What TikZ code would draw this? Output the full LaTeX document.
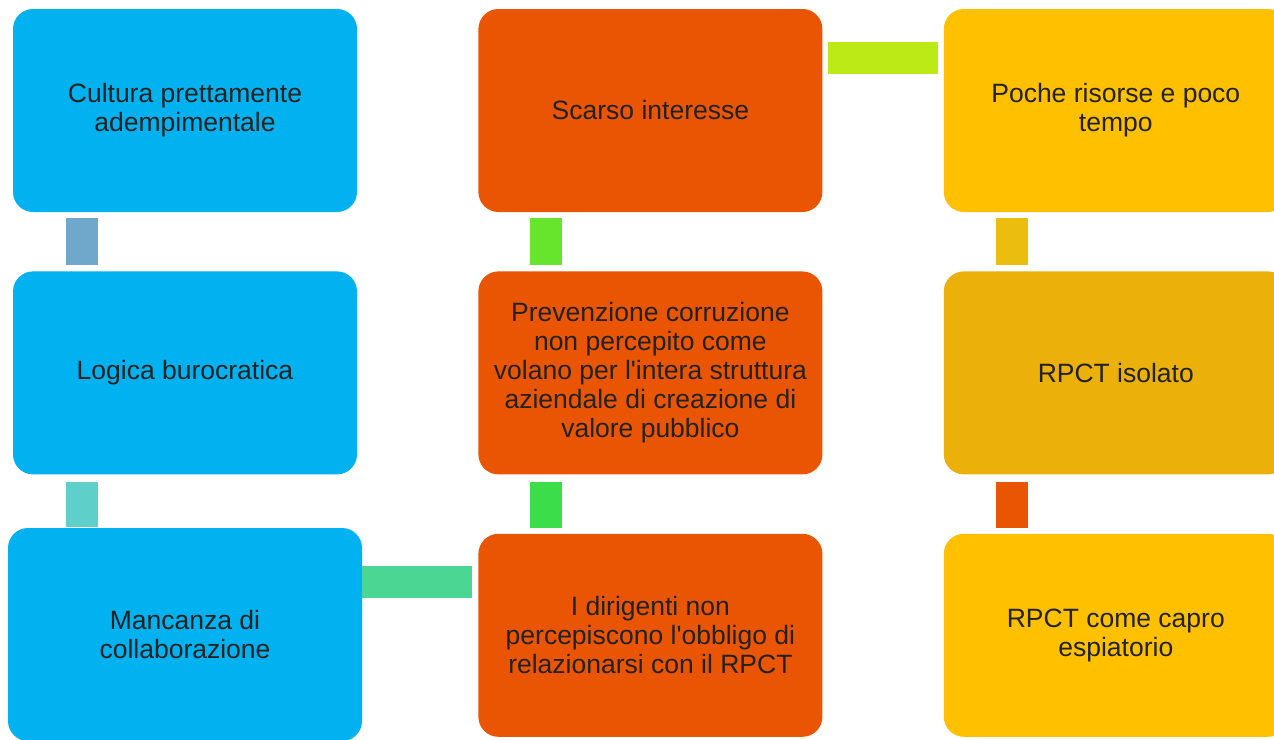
\documentclass[tikz,border=0pt]{standalone}
\usepackage{fontspec}
\setmainfont{Liberation Sans}
\usetikzlibrary{
  positioning,
}
\definecolor{boxBlue}{HTML}{02B1F0}
\definecolor{boxOrange}{HTML}{EA5504}
\definecolor{boxYellow}{HTML}{FFC000}
\definecolor{boxGold}{HTML}{EBB10A}
\definecolor{textDark}{HTML}{222222}
\tikzset{
  cause box/.style = {
    rectangle,
    rounded corners=20pt,
    minimum width=344pt,
    minimum height=203pt,
    inner sep=0pt,
    align=center,
    text=textDark,
    font=\fontsize{26.5}{29}\selectfont
  },
  link bar/.style = {
    line width=32pt,
    shorten <=6pt,
    shorten >=6pt
  },
}
\begin{document}
\begin{tikzpicture}[x=1pt, y=-1pt]
  \useasboundingbox (0,0) rectangle (1274,739);
  %% left column
  \node (c1r1) [cause box, fill=boxBlue] at (185,110.5)
    {Cultura prettamente\\adempimentale};
  \node (c1r2) [cause box, fill=boxBlue, below=59pt of c1r1]
    {Logica burocratica};
  \node (c1r3) [cause box, fill=boxBlue, minimum width=354pt,
    minimum height=213pt] at (185,634.5)
    {Mancanza di\\collaborazione};
  %% middle column
  \node (c2r1) [cause box, fill=boxOrange, right=121pt of c1r1]
    {Scarso interesse};
  \node (c2r2) [cause box, fill=boxOrange, below=59pt of c2r1]
    {Prevenzione corruzione\\non percepito come\\volano per l\textquotesingle intera struttura\\aziendale di creazione di\\valore pubblico};
  \node (c2r3) [cause box, fill=boxOrange, below=59pt of c2r2]
    {I dirigenti non\\percepiscono l\textquotesingle obbligo di\\relazionarsi con il RPCT};
  %% right column
  \node (c3r1) [cause box, fill=boxYellow, right=121pt of c2r1]
    {Poche risorse e poco\\tempo};
  \node (c3r2) [cause box, fill=boxGold, below=59pt of c3r1]
    {RPCT isolato};
  \node (c3r3) [cause box, fill=boxYellow, below=59pt of c3r2]
    {RPCT come capro\\espiatorio};
  %% connecting bars
  \draw[link bar, draw={rgb,255:red,111;green,168;blue,202}]
    ([xshift=-103pt]c1r1.south) -- ([xshift=-103pt]c1r2.north);
  \draw[link bar, draw={rgb,255:red,94;green,207;blue,201},
    shorten <=7pt, shorten >=1pt]
    ([xshift=-103pt]c1r2.south) -- ([xshift=-103pt]c1r3.north);
  \draw[link bar, draw={rgb,255:red,76;green,214;blue,148}, shorten <=0pt]
    (c1r3.east |- 0,581.5) -- (c2r3.west |- 0,581.5);
  \draw[link bar, draw={rgb,255:red,102;green,229;blue,44}]
    ([xshift=-104pt]c2r1.south) -- ([xshift=-104pt]c2r2.north);
  \draw[link bar, draw={rgb,255:red,59;green,221;blue,75}, shorten <=7pt]
    ([xshift=-104pt]c2r2.south) -- ([xshift=-104pt]c2r3.north);
  \draw[link bar, draw={rgb,255:red,188;green,234;blue,22}, shorten <=5pt]
    (c2r1.east |- 0,57.5) -- (c3r1.west |- 0,57.5);
  \draw[link bar, draw={rgb,255:red,235;green,189;blue,14}]
    ([xshift=-104pt]c3r1.south) -- ([xshift=-104pt]c3r2.north);
  \draw[link bar, draw=boxOrange, shorten <=7pt]
    ([xshift=-104pt]c3r2.south) -- ([xshift=-104pt]c3r3.north);
\end{tikzpicture}
\end{document}
